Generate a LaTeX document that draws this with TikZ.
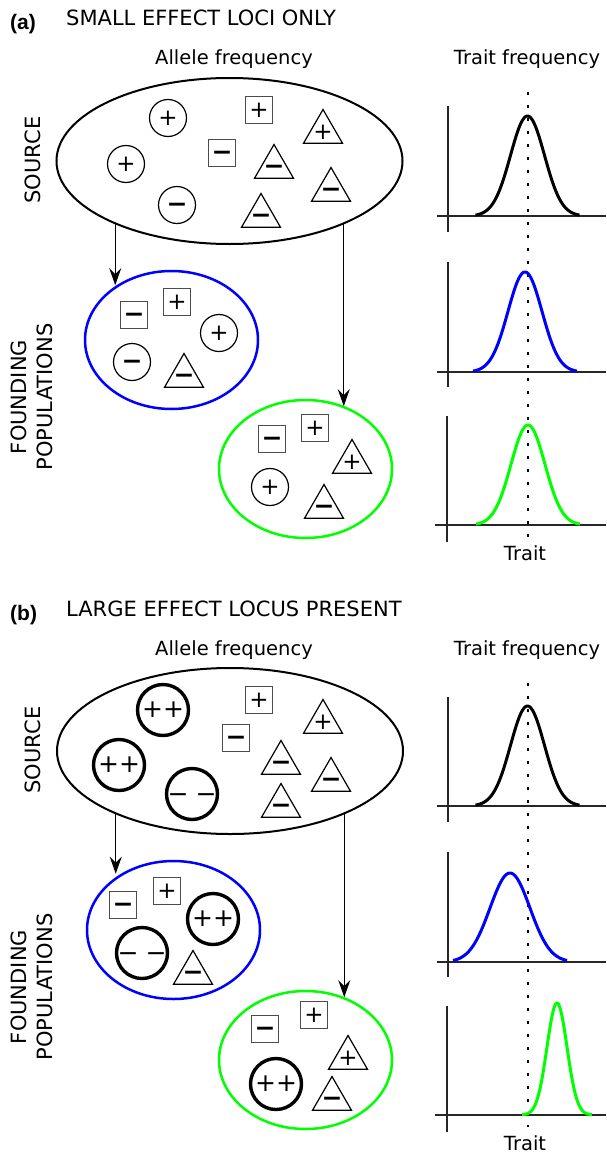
\documentclass[tikz,border=0pt]{standalone}
\usepackage{fontspec}
\setmainfont{DejaVu Sans}
\newfontfamily\panelfont{Liberation Sans}
\usetikzlibrary{arrows.meta,shapes.geometric}

\definecolor{popblue}{RGB}{0,0,255}
\definecolor{popgreen}{RGB}{0,255,0}

\newcommand{\psign}{{\fontsize{23}{23}\selectfont +}}
\newcommand{\msign}{\raisebox{-3pt}[\height][\depth]{\fontsize{25}{25}\selectfont\bfseries −}}
\newcommand{\pbig}{{\fontsize{25}{25}\selectfont ++}}
\newcommand{\mbig}{\raisebox{-4pt}[\height][\depth]{\fontsize{25}{25}\selectfont −\hspace{7pt}−}}

\begin{document}
\begin{tikzpicture}[x=1pt, y=-1pt, inner sep=0pt,
    >={Stealth[length=17pt,width=12pt,inset=6pt]},
    font=\fontsize{20}{24}\selectfont,
    panel/.style={anchor=base west, font=\panelfont\bfseries\fontsize{21}{24}\selectfont},
    title/.style={anchor=base west, font=\fontsize{21}{25}\selectfont},
    head/.style={anchor=base, font=\fontsize{19.5}{23}\selectfont},
    side/.style={rotate=90, align=center, font=\fontsize{21}{26}\selectfont},
    pool/.style={ellipse, draw, line width=2pt},
    ccirc/.style={circle, draw, line width=1.2pt, minimum size=37pt},
    bcirc/.style={circle, draw, line width=3.4pt, minimum size=51pt},
    sq/.style={rectangle, draw=black!70, line width=1.3pt, minimum size=27pt},
    tri/.style={regular polygon, regular polygon sides=3, draw, line width=1.2pt, minimum size=45pt, inner sep=-8pt},
    link/.style={->, line width=1.2pt},
    axis/.style={line width=1.3pt, black!85},
    curve/.style={line width=3pt, samples=90},
    mean/.style={line width=2.7pt, dash pattern=on 2.7pt off 10.3pt}]
  \useasboundingbox (0,0) rectangle (606,1153);

  % (a) small effect loci only
  \node[panel] (alab) at (10,30) {(a)};
  \node[title] (atitle) at (66,26) {SMALL EFFECT LOCI ONLY};
  \node[head] (aallele) at (234,65) {Allele frequency};
  \node[head] (atrait) at (527,65) {Trait frequency};
  \node[side] (asource) at (33,160) {SOURCE};
  \node[side] (afound) at (32,397) {FOUNDING\\POPULATIONS};

  \node[pool, minimum width=346pt, minimum height=166pt] (asrc) at (229.5,161) {};
  \node[pool, draw=popblue, line width=2.5pt, minimum width=173pt, minimum height=138pt] (ablue) at (171.5,340) {};
  \node[pool, draw=popgreen, line width=2.5pt, minimum width=173pt, minimum height=138pt] (agreen) at (305.5,469) {};

  \draw[link] (asrc.209.6) -- (asrc.209.6 |- ablue.135);
  \draw[link] (asrc.331.1) -- (asrc.331.1 |- agreen.58.5);

  \node[ccirc] (as1) at (168,118) {\psign};
  \node[ccirc] (as2) at (126,164) {\psign};
  \node[ccirc] (as3) at (177,205) {\msign};
  \node[sq] (as4) at (259,110) {\psign};
  \node[sq] (as5) at (222,153) {\msign};
  \node[tri] (as6) at (323,132) {\psign};
  \node[tri] (as7) at (274,167) {\msign};
  \node[tri] (as8) at (331,190) {\msign};
  \node[tri] (as9) at (261,216) {\msign};

  \node[sq] (ab1) at (134,315) {\msign};
  \node[sq] (ab2) at (177,302) {\psign};
  \node[ccirc] (ab3) at (219,333) {\psign};
  \node[ccirc] (ab4) at (132,362) {\msign};
  \node[tri] (ab5) at (184,376) {\msign};

  \node[sq] (ag1) at (272,439) {\msign};
  \node[sq] (ag2) at (315,428) {\psign};
  \node[tri] (ag3) at (352,462) {\psign};
  \node[ccirc] (ag4) at (270,487) {\psign};
  \node[tri] (ag5) at (324,507) {\msign};

  \draw[mean] (528,92) -- (528,537);
  \draw[axis] (437,216) -- (606,216);
  \draw[axis] (448,106) -- (448,232);
  \draw[axis] (437,372) -- (606,372);
  \draw[axis] (448,262) -- (448,387);
  \draw[axis] (435,525) -- (606,525);
  \draw[axis] (447,416) -- (447,542);
  \draw[curve] plot[domain=-52:52] ({527.5+\x},{216-100*exp(-((\x)^2)/578)});
  \draw[curve, popblue] plot[domain=-52:52] ({525+\x},{372-100*exp(-((\x)^2)/578)});
  \draw[curve, popgreen] plot[domain=-52:52] ({528+\x},{525-100*exp(-((\x)^2)/578)});
  \node[head] (atraitx) at (525,560) {Trait};

  % (b) large effect locus present
  \begin{scope}[shift={(0,590)}]
    \node[panel] (blab) at (10,30) {(b)};
    \node[title] (btitle) at (66,26) {LARGE EFFECT LOCUS PRESENT};
    \node[head] (ballele) at (234,65) {Allele frequency};
    \node[head] (btrait) at (527,65) {Trait frequency};
    \node[side] (bsource) at (33,160) {SOURCE};
    \node[side] (bfound) at (32,397) {FOUNDING\\POPULATIONS};

    \node[pool, minimum width=346pt, minimum height=166pt] (bsrc) at (230,161) {};
    \node[pool, draw=popblue, line width=2.5pt, minimum width=173pt, minimum height=138pt] (bblue) at (173.5,340) {};
    \node[pool, draw=popgreen, line width=2.5pt, minimum width=173pt, minimum height=138pt] (bgreen) at (305.5,470) {};

    \draw[link] (bsrc.209.4) -- (bsrc.209.4 |- bblue.133);
    \draw[link] (bsrc.331.2) -- (bsrc.331.2 |- bgreen.58.5);

    \node[bcirc] (bs1) at (163,120) {\pbig};
    \node[bcirc] (bs2) at (119,175) {\pbig};
    \node[bcirc] (bs3) at (192,204) {\mbig};
    \node[sq] (bs4) at (259,110) {\psign};
    \node[sq] (bs5) at (236,148) {\msign};
    \node[tri] (bs6) at (323,132) {\psign};
    \node[tri] (bs7) at (281,173) {\msign};
    \node[tri] (bs8) at (331,190) {\msign};
    \node[tri] (bs9) at (281,216) {\msign};

    \node[sq] (bb1) at (123,315) {\msign};
    \node[sq] (bb2) at (167,301) {\psign};
    \node[bcirc] (bb3) at (213,329) {\pbig};
    \node[bcirc] (bb4) at (142,363) {\mbig};
    \node[tri] (bb5) at (193,383) {\msign};

    \node[sq] (bg1) at (265,439) {\msign};
    \node[sq] (bg2) at (314,425) {\psign};
    \node[tri] (bg3) at (348,468) {\psign};
    \node[bcirc] (bg4) at (276,494) {\pbig};
    \node[tri] (bg5) at (332,509) {\msign};

    \draw[mean] (528,93) -- (528,537);
    \draw[axis] (437,216) -- (606,216);
    \draw[axis] (448,107) -- (448,232);
    \draw[axis] (437,372) -- (606,372);
    \draw[axis] (448,262) -- (448,387);
    \draw[axis] (435,525) -- (606,525);
    \draw[axis] (447,416) -- (447,542);
    \draw[curve] plot[domain=-52:52] ({527.5+\x},{216-100*exp(-((\x)^2)/578)});
    \draw[curve, popblue] plot[domain=-57:57] ({510+\x},{372-89*exp(-((\x)^2)/800)});
    \draw[curve, popgreen] plot[domain=-35:35] ({557+\x},{525-112*exp(-((\x)^2)/200)});
    \node[head] (btraitx) at (525,560) {Trait};
  \end{scope}
\end{tikzpicture}
\end{document}
